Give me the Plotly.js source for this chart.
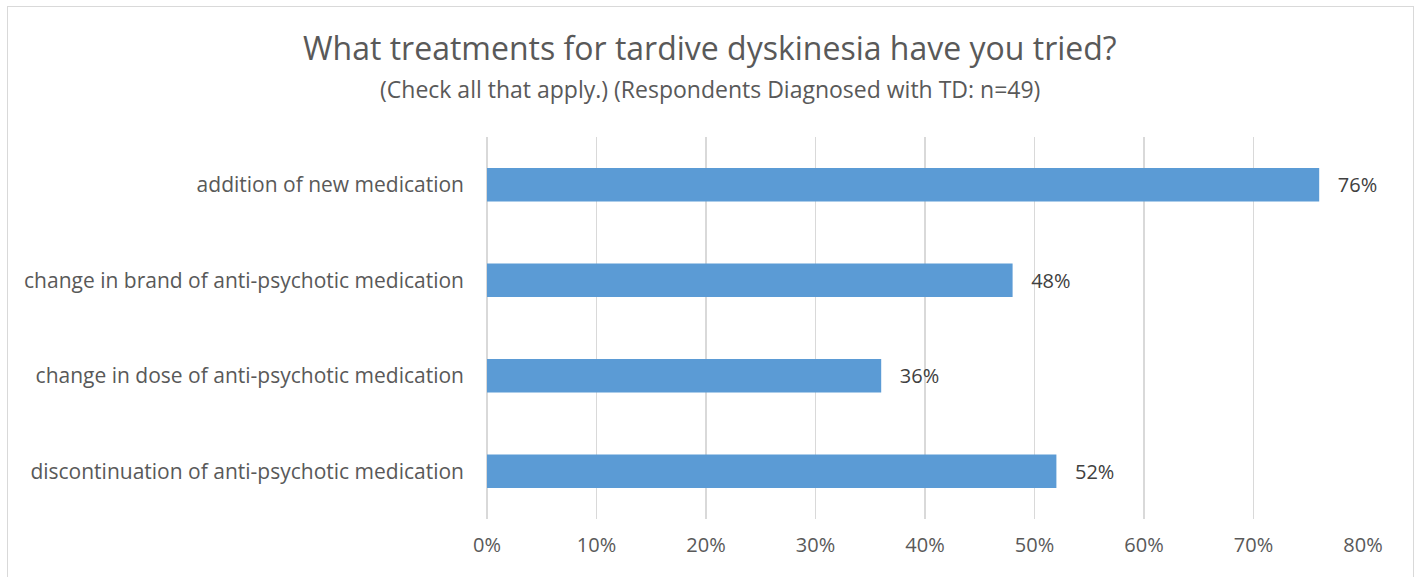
<!DOCTYPE html>
<html><head><meta charset="utf-8">
<script src="https://cdn.plot.ly/plotly-3.0.1.min.js"></script>
<style>
html,body{margin:0;padding:0;background:#fff;overflow:hidden;}
#chart{width:1416px;height:577px;}
#frame{position:absolute;left:7px;top:6px;width:1405px;height:590px;border:1.5px solid #d9d9d9;pointer-events:none;}
</style></head>
<body>
<div id="chart"></div>
<div id="frame"></div>
<script>
const categories = [
  "addition of new medication",
  "change in brand of anti-psychotic medication",
  "change in dose of anti-psychotic medication",
  "discontinuation of anti-psychotic medication"
];
const values = [0.76, 0.48, 0.36, 0.52];
const valueLabels = ["76%", "48%", "36%", "52%"];
const titleText = "What treatments for tardive dyskinesia have you tried?";
const subtitleText = "(Check all that apply.) (Respondents Diagnosed with TD: n=49)";

const trace = {
  type: "bar",
  orientation: "h",
  x: values,
  y: categories,
  text: valueLabels,
  texttemplate: "\u00a0\u00a0\u00a0%{text}",
  textposition: "outside",
  cliponaxis: false,
  textfont: {family: "Open Sans, sans-serif", size: 20, color: "#404040"},
  marker: {color: "#5b9bd5"},
  hoverinfo: "none"
};

const layout = {
  width: 1416, height: 577,
  margin: {l: 487, r: 53, t: 137, b: 58},
  paper_bgcolor: "#fff", plot_bgcolor: "#fff",
  showlegend: false,
  bargap: 0.65,
  font: {family: "Open Sans, sans-serif", color: "#595959"},
  xaxis: {
    range: [0, 0.8], dtick: 0.1, tick0: 0, tickformat: ".0%",
    showgrid: true, gridcolor: "#d9d9d9", gridwidth: 1.5,
    zeroline: true, zerolinecolor: "#d9d9d9", zerolinewidth: 1.5,
    showline: false, ticks: "",
    tickfont: {size: 20, color: "#595959"},
    ticklabelstandoff: 12,
    fixedrange: true
  },
  yaxis: {
    autorange: "reversed",
    showgrid: false, zeroline: false, showline: false, ticks: "",
    tickfont: {size: 21, color: "#595959"},
    ticklabelstandoff: 22,
    fixedrange: true
  },
  annotations: [
    {text: titleText, xref: "paper", yref: "paper", x: 0.2546, y: 1.233,
     xanchor: "center", yanchor: "middle", showarrow: false,
     font: {size: 32, color: "#595959"}},
    {text: subtitleText, xref: "paper", yref: "paper", x: 0.2546, y: 1.126,
     xanchor: "center", yanchor: "middle", showarrow: false,
     font: {size: 23, color: "#595959"}}
  ]
};

Plotly.newPlot("chart", [trace], layout, {displayModeBar: false, staticPlot: true});
</script>
</body></html>
